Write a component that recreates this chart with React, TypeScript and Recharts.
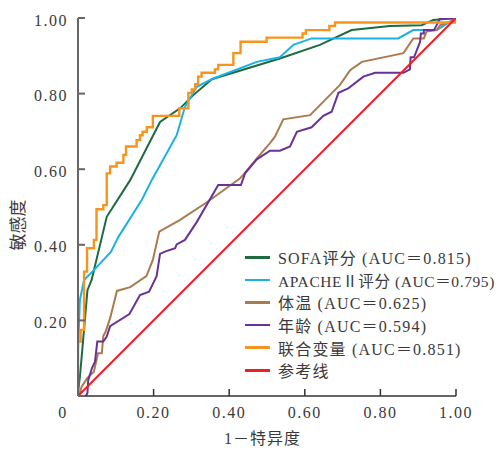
import React from "react";
import { Label, Legend, Line, LineChart, XAxis, YAxis } from "recharts";

// ROC curves: false positive rate (1 - specificity) and sensitivity
const sofaFpr = [0, 0.001, 0.005, 0.012, 0.025, 0.036, 0.076, 0.138, 0.217, 0.27, 0.305, 0.354, 0.534, 0.64, 0.724, 0.825, 0.909, 0.94, 1];
const sofaTpr = [0, 0.016, 0.051, 0.13, 0.28, 0.307, 0.474, 0.571, 0.725, 0.761, 0.796, 0.838, 0.893, 0.929, 0.968, 0.979, 0.981, 0.995, 1];

const apacheFpr = [0, 0, 0.005, 0.016, 0.04, 0.087, 0.107, 0.169, 0.195, 0.261, 0.283, 0.314, 0.358, 0.473, 0.534, 0.57, 0.618, 0.847, 0.887, 0.949, 0.989, 1];
const apacheTpr = [0, 0.122, 0.254, 0.307, 0.331, 0.381, 0.421, 0.519, 0.571, 0.69, 0.765, 0.818, 0.84, 0.884, 0.896, 0.929, 0.946, 0.946, 0.968, 0.968, 0.993, 1];

const tempFpr = [0, 0.003, 0.01, 0.025, 0.042, 0.053, 0.063, 0.067, 0.073, 0.085, 0.103, 0.138, 0.181, 0.198, 0.215, 0.27, 0.34, 0.429, 0.437, 0.481, 0.508, 0.521, 0.543, 0.614, 0.693, 0.72, 0.751, 0.861, 0.887, 0.915, 0.922, 0.949, 0.958, 0.984, 1];
const tempTpr = [0, 0.003, 0.025, 0.048, 0.064, 0.113, 0.113, 0.159, 0.17, 0.206, 0.278, 0.288, 0.317, 0.36, 0.435, 0.466, 0.512, 0.576, 0.585, 0.638, 0.669, 0.686, 0.732, 0.743, 0.823, 0.862, 0.884, 0.907, 0.946, 0.946, 0.964, 0.968, 0.981, 0.99, 1];

const ageFpr = [0, 0.003, 0.021, 0.025, 0.027, 0.037, 0.045, 0.051, 0.067, 0.076, 0.085, 0.136, 0.164, 0.188, 0.208, 0.217, 0.23, 0.257, 0.261, 0.283, 0.314, 0.371, 0.431, 0.442, 0.473, 0.508, 0.534, 0.561, 0.579, 0.618, 0.649, 0.671, 0.689, 0.715, 0.755, 0.786, 0.861, 0.878, 0.88, 0.889, 0.905, 0.907, 0.915, 0.915, 0.942, 0.958, 0.997, 1];
const ageTpr = [0, 0, 0, 0.008, 0.042, 0.074, 0.091, 0.144, 0.144, 0.157, 0.185, 0.217, 0.267, 0.276, 0.317, 0.376, 0.382, 0.391, 0.401, 0.413, 0.46, 0.558, 0.558, 0.589, 0.626, 0.649, 0.649, 0.66, 0.699, 0.711, 0.741, 0.752, 0.802, 0.814, 0.845, 0.855, 0.855, 0.864, 0.896, 0.896, 0.937, 0.959, 0.959, 0.968, 0.968, 0.999, 0.999, 1];

// combined model is a staircase: each point = right end of a horizontal run at that sensitivity
const combFpr = [0, 0.007, 0.016, 0.024, 0.042, 0.049, 0.067, 0.076, 0.085, 0.102, 0.12, 0.127, 0.155, 0.164, 0.171, 0.182, 0.198, 0.268, 0.292, 0.301, 0.31, 0.318, 0.327, 0.362, 0.371, 0.411, 0.43, 0.499, 0.594, 0.603, 0.665, 0.68, 0.997, 1];
const combTpr = [0, 0.144, 0.175, 0.329, 0.391, 0.413, 0.494, 0.505, 0.589, 0.607, 0.617, 0.638, 0.66, 0.677, 0.69, 0.699, 0.711, 0.741, 0.761, 0.802, 0.811, 0.825, 0.845, 0.855, 0.864, 0.876, 0.907, 0.937, 0.948, 0.959, 0.968, 0.979, 0.988, 1];

const refFpr = [0, 1];
const refTpr = [0, 1];

const axisTicks = [0, 0.2, 0.4, 0.6, 0.8, 1];

const toPoints = (xs: number[], ys: number[]) => xs.map((x, i) => ({ x, y: ys[i] }));

const series = [
  { name: "SOFA评分 (AUC＝0.815)", data: toPoints(sofaFpr, sofaTpr), color: "#1d6b3f", type: "linear" },
  { name: "APACHEⅡ评分 (AUC＝0.795)", data: toPoints(apacheFpr, apacheTpr), color: "#1bb1e7", type: "linear" },
  { name: "体温 (AUC＝0.625)", data: toPoints(tempFpr, tempTpr), color: "#a97c50", type: "linear" },
  { name: "年龄 (AUC＝0.594)", data: toPoints(ageFpr, ageTpr), color: "#6a3296", type: "linear" },
  { name: "联合变量 (AUC＝0.851)", data: toPoints(combFpr, combTpr), color: "#f7941d", type: "stepBefore" },
  { name: "参考线", data: toPoints(refFpr, refTpr), color: "#ec2027", type: "linear" },
] as const;

const FONT = "'Liberation Serif', 'Noto Sans CJK SC', serif";
const TEXT = "#3a3a3a";

function XTick({ x, y, payload }: any) {
  const v = payload.value as number;
  return (
    <text
      x={v === 0 ? x - 15 : x}
      y={y + 12.5}
      textAnchor="middle"
      fontFamily={FONT}
      fontSize={16}
      fill={TEXT}
      letterSpacing={1.5}
    >
      {v === 0 ? "0" : v.toFixed(2)}
    </text>
  );
}

function YTick({ x, y, payload }: any) {
  const v = payload.value as number;
  if (v === 0) return null;
  return (
    <text x={x} y={y + 7.5} textAnchor="end" fontFamily={FONT} fontSize={16} fill={TEXT} letterSpacing={1.5}>
      {v.toFixed(2)}
    </text>
  );
}

function LegendBox() {
  return (
    <div style={{ fontFamily: FONT, fontSize: 16, color: TEXT }}>
      {series.map((s) => {
        // the long APACHE row is set a little tighter so it stays inside the frame
        const long = s.name.startsWith("APACHE");
        return (
          <div key={s.name} style={{ display: "flex", alignItems: "center", height: 22.6, whiteSpace: "nowrap" }}>
            <span
              style={{ display: "inline-block", flexShrink: 0, width: 25, height: 2.5, background: s.color, marginRight: 8 }}
            />
            <span style={{ flexShrink: 0, letterSpacing: long ? 0.6 : 1.2, fontSize: long ? 15.5 : 16 }}>{s.name}</span>
          </div>
        );
      })}
    </div>
  );
}

export default function App() {
  return (
    <div style={{ position: "absolute", left: 0, top: 0, width: 498, height: 449, background: "#fff", overflow: "hidden" }}>
      <LineChart width={498} height={449} margin={{ top: 18, right: 42, bottom: 23, left: 0 }}>
        <XAxis
          type="number"
          dataKey="x"
          domain={[0, 1]}
          ticks={axisTicks}
          allowDataOverflow
          height={30}
          tickSize={-7}
          tickMargin={16}
          tick={<XTick />}
          stroke="#333"
          strokeWidth={1.5}
        >
          <Label
            content={({ viewBox }: any) => (
              <text
                x={viewBox.x + viewBox.width / 2 - 4.5}
                y={viewBox.y + 48}
                textAnchor="middle"
                fontFamily={FONT}
                fontSize={16}
                fill={TEXT}
                letterSpacing={1}
              >
                1－特异度
              </text>
            )}
          />
        </XAxis>
        <YAxis
          type="number"
          dataKey="y"
          domain={[0, 1]}
          ticks={axisTicks}
          allowDataOverflow
          width={78}
          tickSize={-7}
          tickMargin={17}
          tick={<YTick />}
          stroke="#666"
          strokeWidth={2}
        >
          <Label
            content={({ viewBox }: any) => (
              <text
                x={18}
                y={viewBox.y + viewBox.height / 2 + 18}
                transform={`rotate(-90 18 ${viewBox.y + viewBox.height / 2 + 18})`}
                textAnchor="middle"
                dominantBaseline="central"
                fontFamily={FONT}
                fontSize={17}
                fill={TEXT}
              >
                敏感度
              </text>
            )}
          />
        </YAxis>
        <Legend
          layout="vertical"
          align="center"
          verticalAlign="middle"
          content={<LegendBox />}
          wrapperStyle={{ position: "absolute", left: 245, top: 246, width: 253, height: 140, overflow: "visible" }}
        />
        {series.map((s) => (
          <Line
            key={s.name}
            data={s.data as any}
            dataKey="y"
            name={s.name}
            type={s.type as any}
            stroke={s.color}
            strokeWidth={s.type === "stepBefore" ? 2.4 : 2}
            dot={false}
            activeDot={false}
            isAnimationActive={false}
          />
        ))}
      </LineChart>
    </div>
  );
}
